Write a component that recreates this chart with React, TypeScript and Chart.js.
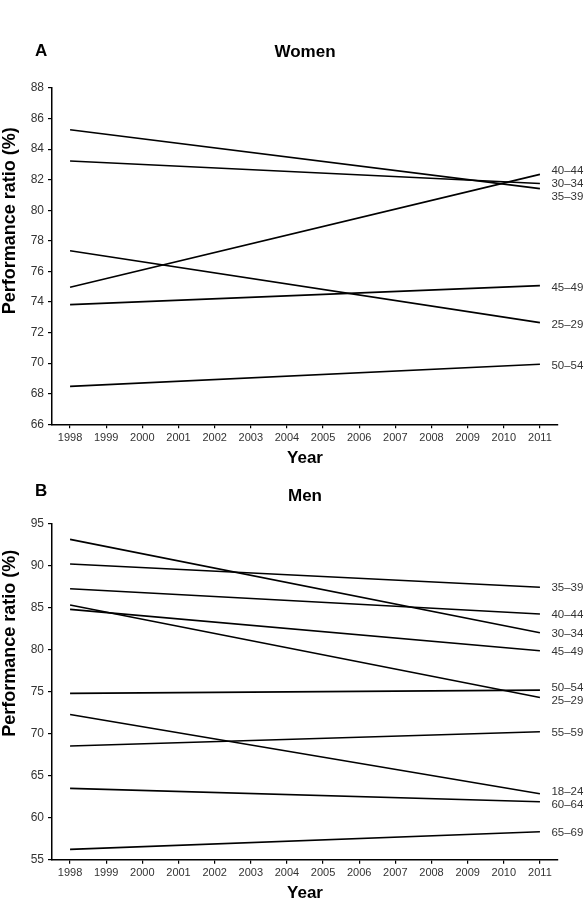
import React, { useEffect, useRef } from "react";
import { Chart, registerables } from "chart.js";

Chart.register(...registerables);

const FONT = '"Liberation Sans", Arial, Helvetica, sans-serif';

const YEARS = [1998, 1999, 2000, 2001, 2002, 2003, 2004, 2005, 2006, 2007, 2008, 2009, 2010, 2011];
const START_YEAR = 1998;
const END_YEAR = 2011;

const WOMEN_GROUPS = ["35–39", "30–34", "40–44", "25–29", "45–49", "50–54"];
const WOMEN_START = [85.27, 83.22, 74.97, 77.35, 73.83, 68.48];
const WOMEN_END = [81.42, 81.75, 82.35, 72.65, 75.07, 69.93];

const MEN_GROUPS = ["30–34", "35–39", "40–44", "25–29", "45–49", "50–54", "18–24", "55–59", "60–64", "65–69"];
const MEN_START = [93.17, 90.23, 87.29, 85.35, 84.83, 74.82, 72.31, 68.54, 63.5, 56.23];
const MEN_END = [82.05, 87.46, 84.27, 74.32, 79.9, 75.21, 62.86, 70.25, 61.9, 58.33];

const WOMEN_Y = { min: 66, max: 88, step: 2 };
const MEN_Y = { min: 55, max: 95, step: 5 };

const Y_TITLE = "Performance ratio (%)";
const X_TITLE = "Year";

type PanelCfg = {
  groups: string[];
  start: number[];
  end: number[];
  yMin: number;
  yMax: number;
  yStep: number;
  letter: string;
  title: string;
  width: number;
  height: number;
  padTop: number;
  xAxisH: number;
  letterY: number;
  titleY: number;
  xTitleY: number;
  yTitleY: number;
  labelShift: number;
};

function makeAnnotPlugin(cfg: PanelCfg) {
  return {
    id: "annot",
    afterDraw(chart: any) {
      const ctx = chart.ctx as CanvasRenderingContext2D;
      const { left, right } = chart.chartArea;
      const xs = chart.scales.x;
      const ys = chart.scales.y;
      const cx = (left + right) / 2;
      ctx.save();
      ctx.fillStyle = "#000";
      ctx.textBaseline = "middle";
      ctx.font = `bold 17px ${FONT}`;
      ctx.textAlign = "left";
      ctx.fillText(cfg.letter, 35, cfg.letterY);
      ctx.textAlign = "center";
      ctx.fillText(cfg.title, cx, cfg.titleY);
      ctx.fillText(X_TITLE, cx, cfg.xTitleY);
      ctx.save();
      ctx.translate(10, cfg.yTitleY);
      ctx.rotate(-Math.PI / 2);
      ctx.font = `bold 18px ${FONT}`;
      ctx.fillText(Y_TITLE, 0, 0);
      ctx.restore();

      // end labels, spread apart where they would overlap
      const xe = xs.getPixelForValue(END_YEAR) + 11.5;
      const items = cfg.groups
        .map((g, i) => ({ g, y: ys.getPixelForValue(cfg.end[i]) }))
        .sort((a, b) => a.y - b.y);
      const GAP = 13;
      for (let it = 0; it < 60; it++) {
        for (let i = 1; i < items.length; i++) {
          const d = items[i].y - items[i - 1].y;
          if (d < GAP) {
            const s = (GAP - d) / 2;
            items[i].y += s;
            items[i - 1].y -= s;
          }
        }
      }
      ctx.font = `11.5px ${FONT}`;
      ctx.fillStyle = "#333";
      ctx.textAlign = "left";
      items.forEach((it) => ctx.fillText(it.g, xe, it.y + cfg.labelShift));
      ctx.restore();
    },
  };
}

function buildChart(canvas: HTMLCanvasElement, cfg: PanelCfg) {
  const datasets = cfg.groups.map((g, i) => ({
    label: g,
    data: [
      { x: START_YEAR, y: cfg.start[i] },
      { x: END_YEAR, y: cfg.end[i] },
    ],
    borderColor: "#000",
    borderWidth: 1.6,
    pointRadius: 0,
    pointHoverRadius: 0,
    fill: false,
    tension: 0,
  }));
  return new Chart(canvas, {
    type: "line",
    data: { datasets },
    plugins: [makeAnnotPlugin(cfg)],
    options: {
      animation: false,
      responsive: false,
      devicePixelRatio: 1,
      layout: { padding: { left: 0, right: 28, top: cfg.padTop, bottom: 0 } },
      plugins: {
        legend: { display: false },
        tooltip: { enabled: false },
        title: { display: false },
      },
      scales: {
        x: {
          type: "linear",
          min: START_YEAR - 0.5,
          max: END_YEAR + 0.5,
          afterBuildTicks: (s: any) => {
            s.ticks = YEARS.map((v) => ({ value: v }));
          },
          afterFit: (s: any) => {
            s.height = cfg.xAxisH;
          },
          ticks: {
            callback: (v: any) => String(v),
            font: { size: 11, family: FONT },
            color: "#333",
            padding: 3,
            autoSkip: false,
            maxRotation: 0,
            minRotation: 0,
          },
          grid: { drawOnChartArea: false, drawTicks: true, tickLength: 4, color: "#000", lineWidth: 1.2 },
          border: { display: true, color: "#000", width: 1.5 },
        },
        y: {
          type: "linear",
          min: cfg.yMin,
          max: cfg.yMax,
          afterFit: (s: any) => {
            s.width = 52;
          },
          ticks: {
            stepSize: cfg.yStep,
            font: { size: 12, family: FONT },
            color: "#333",
            padding: 4,
          },
          grid: { drawOnChartArea: false, drawTicks: true, tickLength: 4, color: "#000", lineWidth: 1.2 },
          border: { display: true, color: "#000", width: 1.5 },
        },
      },
    } as any,
  });
}

const WOMEN_CFG: PanelCfg = {
  groups: WOMEN_GROUPS,
  start: WOMEN_START,
  end: WOMEN_END,
  yMin: WOMEN_Y.min,
  yMax: WOMEN_Y.max,
  yStep: WOMEN_Y.step,
  letter: "A",
  title: "Women",
  width: 586,
  height: 470,
  padTop: 88,
  xAxisH: 45.7,
  letterY: 51,
  titleY: 52,
  xTitleY: 458,
  yTitleY: 220.7,
  labelShift: 2,
};

const MEN_CFG: PanelCfg = {
  groups: MEN_GROUPS,
  start: MEN_START,
  end: MEN_END,
  yMin: MEN_Y.min,
  yMax: MEN_Y.max,
  yStep: MEN_Y.step,
  letter: "B",
  title: "Men",
  width: 586,
  height: 430,
  padTop: 54,
  xAxisH: 40.3,
  letterY: 21.7,
  titleY: 26.7,
  xTitleY: 423,
  yTitleY: 173.3,
  labelShift: 1,
};

function Panel({ cfg }: { cfg: PanelCfg }) {
  const ref = useRef<HTMLCanvasElement | null>(null);
  useEffect(() => {
    if (!ref.current) return;
    const ch = buildChart(ref.current, cfg);
    return () => ch.destroy();
  }, [cfg]);
  return (
    <canvas
      ref={ref}
      width={cfg.width}
      height={cfg.height}
      style={{ display: "block", width: cfg.width, height: cfg.height }}
    />
  );
}

export default function App() {
  return (
    <div
      style={{
        position: "fixed",
        left: 0,
        top: 0,
        width: 586,
        height: 900,
        background: "#fff",
        overflow: "hidden",
      }}
    >
      <Panel cfg={WOMEN_CFG} />
      <Panel cfg={MEN_CFG} />
    </div>
  );
}
